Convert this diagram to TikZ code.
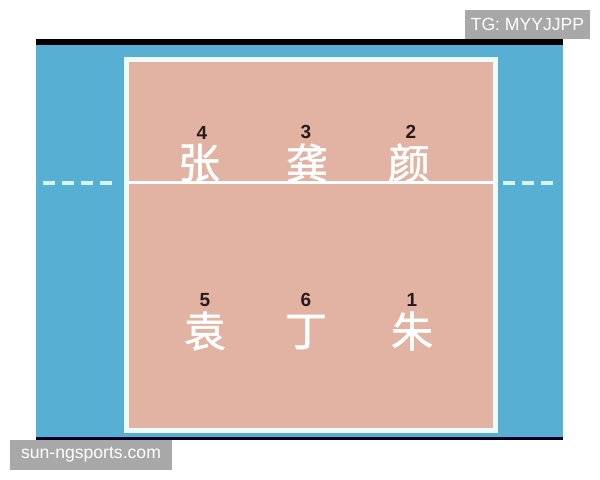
\documentclass[tikz,border=0pt]{standalone}
\usepackage{fontspec}
\setsansfont{Liberation Sans}
\newfontfamily\cjk{Noto Sans CJK SC}[AutoFakeBold=1.2]
\usetikzlibrary{positioning}
\definecolor{courtblue}{HTML}{57B0D3}
\definecolor{courtpink}{HTML}{E2B2A2}
\definecolor{linecyan}{HTML}{D2F4F2}
\definecolor{taggray}{HTML}{A8A8A8}
\definecolor{numdark}{HTML}{2B1A1A}

\begin{document}
\begin{tikzpicture}[x=0.5pt,y=-0.5pt,
    player/.style={font=\cjk\bfseries\fontsize{21}{21}\selectfont,text=white,inner sep=0pt},
    posnum/.style={font=\sffamily\bfseries\fontsize{9.5}{9.5}\selectfont,text=numdark,inner sep=0pt},
    tag/.style={fill=taggray,text=white,font=\sffamily\fontsize{8.8}{8.8}\selectfont,inner sep=0pt,minimum height=14.5pt}]
  \useasboundingbox (0,0) rectangle (600,480);
  \fill[white] (0,0) rectangle (600,480);
          \fill[courtblue] (36,45) rectangle (563,437);
          \fill[black] (36,39) rectangle (563,45);
          \fill[black!85!blue] (36,437) rectangle (563,440);
          \draw[line width=2.5pt,draw=linecyan!40!white,fill=courtpink] (126.5,59.5) rectangle (495.5,430.5);
          \coordinate (netL) at (128,183);
          \coordinate (netR) at (494,183);
          \coordinate (dashLa) at (43,183);
          \coordinate (dashLb) at (117,183);
          \coordinate (dashRa) at (503,183);
          \coordinate (dashRb) at (560,183);
          \draw[white,line width=1.5pt] (netL) -- (netR);
          \draw[linecyan,line width=2pt,dash pattern=on 6pt off 3.5pt] (dashLa) -- (dashLb);
          \draw[linecyan,line width=2pt,dash pattern=on 6pt off 3.5pt] (dashRa) -- (dashRb);
          \foreach \n/\x/\y/\ch/\dx/\gap in {4/199/163/张/1.5/2, 3/307/163/龚/-0.5/2, 2/409/163/颜/1/2,
                                             5/205/331/袁/0/2, 6/306/332/丁/0/3.5, 1/412/331/朱/0/2}{
            \node[player] (p\n) at (\x,\y) {\ch};
            \node[posnum,above=\gap pt of p\n,xshift=\dx pt] (n\n) {\n};
          }
          \node[tag,minimum width=62.5pt] (tg) at (527.5,24.5) {TG: MYYJJPP};
          \node[tag,minimum width=81pt,minimum height=15pt] (site) at (91,455) {sun-ngsports.com};
\end{tikzpicture}
\end{document}
